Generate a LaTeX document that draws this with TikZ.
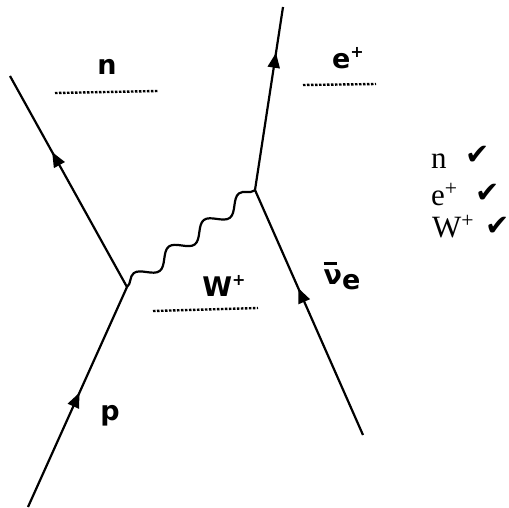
\documentclass[tikz,border=0pt]{standalone}
\usepackage{fontspec}
\newfontfamily\listfont{Liberation Serif}
\newfontfamily\checkfont{DejaVu Sans}
\newfontfamily\labelfont{DejaVu Sans}
\usetikzlibrary{arrows.meta,decorations.pathmorphing,decorations.markings}

\tikzset{
  fermion/.style={line width=2.2pt, postaction={decorate},
    decoration={markings, mark=at position #1 with {\arrow{Triangle[length=15pt,width=12pt]}}}},
  boson/.style={line width=2.2pt, decorate, decoration={snake, segment length=44pt, amplitude=7pt}},
  level/.style={line width=2.4pt, dash pattern=on 2.5pt off 1.5pt},
  plabel/.style={inner sep=0pt, font=\labelfont\bfseries\fontsize{27}{27}\selectfont},
  rowtext/.style={anchor=base west, inner sep=0pt, font=\listfont\fontsize{31}{31}\selectfont},
  rowcheck/.style={anchor=base west, inner sep=0pt, font=\checkfont\fontsize{29}{29}\selectfont}
}
\newcommand{\smallplus}{\raisebox{0.4em}{\fontsize{16}{16}\selectfont+}}

\begin{document}
\begin{tikzpicture}[x=1pt, y=-1pt]
  \useasboundingbox (0,0) rectangle (509,508);

  % VERTICES AND FREE ENDS
  \coordinate (v1) at (127,287);
  \coordinate (v2) at (255,190);
  \coordinate (nend) at (10,76);
  \coordinate (pend) at (28,507);
  \coordinate (eend) at (283,7);
  \coordinate (nuend) at (363,435);

  % FERMION LINES
  \draw[fermion=0.64] (v1) -- (nend);
  \draw[fermion=0.52] (pend) -- (v1);
  \draw[fermion=0.75] (v2) -- (eend);
  \draw[fermion=0.6] (nuend) -- (v2);

  % W BOSON
  \draw[boson] (v1) -- (v2);

  % PARTICLE LABELS WITH DOTTED LINES
  \node[plabel] (nlab) at (107,67) {n};
  \draw[level] (55,93) -- (158,91);
  \node[plabel] (elab) at (348,58) {e\smallplus};
  \draw[level] (303,85) -- (376,84);
  \node[plabel] (wlab) at (224,286) {W\smallplus};
  \draw[level] (153,311) -- (258,308);
  \node[plabel] (plab) at (110,416) {p};
  \node[plabel] (nulab) at (342,276) {\rlap{\raisebox{0.72em}{\rule{0.5em}{0.1em}}}ν\raisebox{-0.18em}{e}};

  % CHECK LIST
  \node[rowtext] (nrow) at (431,168) {n};
  \node[rowcheck] (nchk) at (465,165) {✔};
  \node[rowtext] (erow) at (431,205) {e\textsuperscript{+}};
  \node[rowcheck] (echk) at (475,202) {✔};
  \node[rowtext] (wrow) at (432,237) {W\textsuperscript{+}};
  \node[rowcheck] (wchk) at (485,236) {✔};
\end{tikzpicture}
\end{document}
